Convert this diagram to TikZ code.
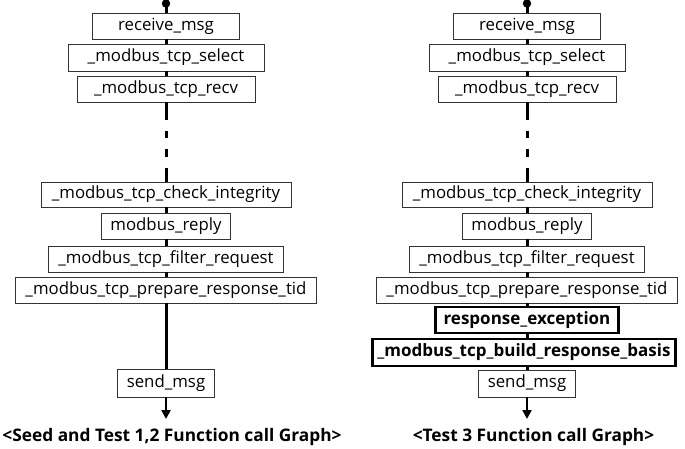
\documentclass[tikz,border=0pt]{standalone}
\usepackage{fontspec}
\setmainfont{Open Sans}
\usetikzlibrary{arrows.meta}
\tikzset{
  fn/.style={draw=black!80, line width=0.9pt, fill=white, inner sep=0pt, align=center,
    font=\fontsize{16.8}{18}\selectfont, minimum height=26pt},
  fnbold/.style={fn, line width=2.8pt, draw=black, font=\fontsize{17}{18}\selectfont\bfseries},
  spine/.style={line width=3pt, black},
  captiontext/.style={font=\fontsize{17.3}{19}\selectfont\bfseries, inner sep=0pt},
  endarrow/.style={line width=2.4pt, -{Triangle[length=9pt,width=9pt]}}
}
\begin{document}
\begin{tikzpicture}[x=1pt,y=-1pt]
\useasboundingbox (0,0) rectangle (685,449);
% ---------- left graph ----------
\coordinate (Ldot) at (166,3.5);
\node[fn, minimum width=147pt] (L1) at (166,26) {receive\_msg};
\node[fn, minimum width=196pt, minimum height=27pt] (L2) at (166,57.5) {\_modbus\_tcp\_select};
\node[fn, minimum width=178pt] (L3) at (166,89) {\_modbus\_tcp\_recv};
\node[fn, minimum width=250pt, minimum height=25pt] (L4) at (166,194.5) {\_modbus\_tcp\_check\_integrity};
\node[fn, minimum width=129pt] (L5) at (166,226) {modbus\_reply};
\node[fn, minimum width=235pt] (L6) at (166,259) {\_modbus\_tcp\_filter\_request};
\node[fn, minimum width=301pt] (L7) at (166,290) {\_modbus\_tcp\_prepare\_response\_tid};
\node[fn, minimum width=97pt, minimum height=28pt] (L8) at (166,383) {send\_msg};
\coordinate (Lend) at (166,419);
\fill (Ldot) circle (4.2pt);
\draw[spine] (Ldot) -- (L1.north);
\draw[spine] (L1.south) -- (L2.north);
\draw[spine] (L2.south) -- (L3.north);
\draw[spine, dash pattern=on 18pt off 11pt on 7pt off 11pt on 8pt off 11pt on 14pt] (L3.south) -- (L4.north);
\draw[spine] (L4.south) -- (L5.north);
\draw[spine] (L5.south) -- (L6.north);
\draw[spine] (L6.south) -- (L7.north);
\draw[spine] (L7.south) -- (L8.north);
\draw[endarrow] (L8.south) -- (Lend);
\node[captiontext] (Lcap) at (172,437) {<Seed and Test 1,2 Function call Graph>};
% ---------- right graph ----------
\coordinate (Rdot) at (527,3.5);
\node[fn, minimum width=147pt] (R1) at (527,26) {receive\_msg};
\node[fn, minimum width=196pt, minimum height=27pt] (R2) at (527,57.5) {\_modbus\_tcp\_select};
\node[fn, minimum width=178pt] (R3) at (527,89) {\_modbus\_tcp\_recv};
\node[fn, minimum width=250pt, minimum height=25pt] (R4) at (527,194.5) {\_modbus\_tcp\_check\_integrity};
\node[fn, minimum width=129pt] (R5) at (527,226) {modbus\_reply};
\node[fn, minimum width=235pt] (R6) at (527,259) {\_modbus\_tcp\_filter\_request};
\node[fn, minimum width=301pt] (R7) at (527,290) {\_modbus\_tcp\_prepare\_response\_tid};
\node[fnbold, minimum width=183pt] (R8) at (527,320) {response\_exception};
\node[fnbold, minimum width=303pt, minimum height=27pt] (R9) at (524,352.5) {\_modbus\_tcp\_build\_response\_basis};
\node[fn, minimum width=97pt, minimum height=27pt] (R10) at (527,383.5) {send\_msg};
\coordinate (Rend) at (527,419);
\fill (Rdot) circle (4.2pt);
\draw[spine] (Rdot) -- (R1.north);
\draw[spine] (R1.south) -- (R2.north);
\draw[spine] (R2.south) -- (R3.north);
\draw[spine, dash pattern=on 18pt off 11pt on 7pt off 11pt on 8pt off 11pt on 14pt] (R3.south) -- (R4.north);
\draw[spine] (R4.south) -- (R5.north);
\draw[spine] (R5.south) -- (R6.north);
\draw[spine] (R6.south) -- (R7.north);
\draw[spine] (R7.south) -- (R8.north);
\draw[spine] (R8.south) -- (R8.south |- R9.north);
\draw[spine] (R9.south -| R10.north) -- (R10.north);
\draw[endarrow] (R10.south) -- (Rend);
\node[captiontext] (Rcap) at (533.5,437) {<Test 3 Function call Graph>};
\end{tikzpicture}
\end{document}
